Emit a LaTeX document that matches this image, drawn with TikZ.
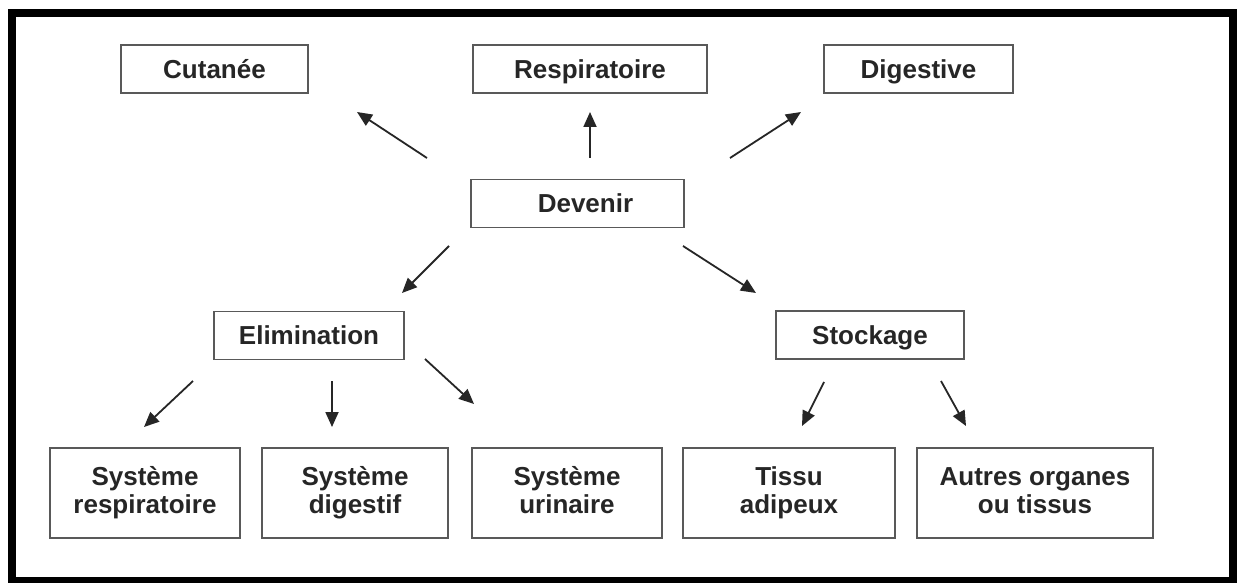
\documentclass[tikz,border=0pt]{standalone}
\usepackage{fontspec}
\setmainfont{Liberation Sans}
\usetikzlibrary{arrows.meta}
% invisible struts that fix the first and last line of two-line labels
\newcommand{\firststrut}{\rule{0pt}{21pt}}
\newcommand{\laststrut}{\rule[-9pt]{0pt}{9pt}}
\begin{document}
\begin{tikzpicture}[x=1pt,y=-1pt,
  boxbase/.style={draw=black!65,line width=1.6pt,fill=white,inner sep=0pt,
    font=\fontsize{26}{28}\selectfont\bfseries,text=black!85,align=center},
  box/.style={boxbase,minimum height=48pt,text height=21.3pt,text depth=2.7pt},
  tall/.style={boxbase,minimum height=90pt},
  link/.style={line width=1.8pt,black!85,-{Triangle[length=15pt,width=13pt]}}]
\useasboundingbox (0,0) rectangle (1245,583);
\fill[white] (0,0) rectangle (1245,583);
% outer frame
\draw[line width=8pt] (11.5,13) rectangle (1232.5,581);

% first level: routes
\node[box,minimum width=187pt] (cut) at (214.5,69) {Cutanée};
\node[box,minimum width=234pt] (resp) at (590,69) {Respiratoire};
\node[box,minimum width=189pt] (dig) at (918.5,69) {Digestive};

% centre
\node[box,minimum width=213pt] (dev) at (577.5,203.5) {\hspace*{16pt}Devenir};

% second level
\node[box,minimum width=190pt] (elim) at (309,335.5) {Elimination};
\node[box,minimum width=188pt] (stock) at (870,335) {Stockage};

% bottom row
\node[tall,minimum width=190pt] (sr) at (145,493) {\firststrut Système\\respiratoire\laststrut};
\node[tall,minimum width=186pt] (sd) at (355,493) {\firststrut Système\\digestif\laststrut};
\node[tall,minimum width=190pt] (su) at (567,493) {\firststrut Système\\urinaire\laststrut};
\node[tall,minimum width=212pt] (ta) at (789,493) {\firststrut Tissu\\adipeux\laststrut};
\node[tall,minimum width=236pt] (ao) at (1035,493) {\firststrut Autres organes\\ou tissus\laststrut};

% free-standing arrow ends
\coordinate (dev-cut-a) at (427,158);  \coordinate (dev-cut-b) at (357,112);
\coordinate (dev-resp-a) at (590,158); \coordinate (dev-resp-b) at (590,112);
\coordinate (dev-dig-a) at (730,158);  \coordinate (dev-dig-b) at (801,112);
\coordinate (dev-elim-a) at (449,246); \coordinate (dev-elim-b) at (402,293);
\coordinate (dev-stock-a) at (683,246); \coordinate (dev-stock-b) at (756,293);
\coordinate (elim-sr-a) at (193,381);  \coordinate (elim-sr-b) at (144,427);
\coordinate (elim-sd-a) at (332,381);  \coordinate (elim-sd-b) at (332,427);
\coordinate (elim-su-a) at (425,359);  \coordinate (elim-su-b) at (474,404);
\coordinate (stock-ta-a) at (824,382); \coordinate (stock-ta-b) at (802,426);
\coordinate (stock-ao-a) at (941,381); \coordinate (stock-ao-b) at (966,426);

\draw[link] (dev-cut-a) -- (dev-cut-b);
\draw[link] (dev-resp-a) -- (dev-resp-b);
\draw[link] (dev-dig-a) -- (dev-dig-b);
\draw[link] (dev-elim-a) -- (dev-elim-b);
\draw[link] (dev-stock-a) -- (dev-stock-b);
\draw[link] (elim-sr-a) -- (elim-sr-b);
\draw[link] (elim-sd-a) -- (elim-sd-b);
\draw[link] (elim-su-a) -- (elim-su-b);
\draw[link] (stock-ta-a) -- (stock-ta-b);
\draw[link] (stock-ao-a) -- (stock-ao-b);
\end{tikzpicture}
\end{document}
